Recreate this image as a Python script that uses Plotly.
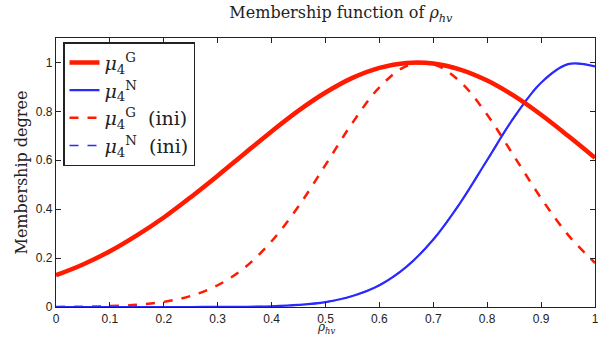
import plotly.graph_objects as go

rho = [0.0, 0.05, 0.1, 0.15, 0.2, 0.25, 0.3, 0.35, 0.4, 0.45, 0.5,
       0.55, 0.6, 0.65, 0.7, 0.75, 0.8, 0.85, 0.9, 0.95, 1.0]

mu_G = [0.130, 0.174, 0.228, 0.293, 0.366, 0.449, 0.537, 0.628, 0.718, 0.803, 0.877,
        0.937, 0.978, 0.998, 0.996, 0.971, 0.926, 0.863, 0.786, 0.700, 0.610]
mu_N = [0.0, 0.0, 0.0, 0.0, 0.0, 0.0, 0.0004, 0.001, 0.003, 0.0085, 0.020,
        0.045, 0.089, 0.164, 0.276, 0.426, 0.601, 0.776, 0.917, 0.993, 0.984]
mu_G_ini = [0.0004, 0.0013, 0.0036, 0.009, 0.021, 0.045, 0.089, 0.161, 0.269, 0.412, 0.581,
            0.753, 0.898, 0.985, 0.993, 0.921, 0.786, 0.616, 0.445, 0.295, 0.180]
mu_N_ini = [0.0, 0.0, 0.0, 0.0, 0.0, 0.0, 0.0004, 0.001, 0.003, 0.0085, 0.020,
            0.045, 0.089, 0.164, 0.276, 0.426, 0.601, 0.776, 0.917, 0.993, 0.984]

x_ticks = [0, 0.1, 0.2, 0.3, 0.4, 0.5, 0.6, 0.7, 0.8, 0.9, 1]
y_ticks = [0, 0.2, 0.4, 0.6, 0.8, 1]

RED = "#ff1a00"
BLUE = "#2a2aff"
SERIF = "DejaVu Serif"

fig = go.Figure()
fig.add_trace(go.Scatter(x=rho, y=mu_N_ini, mode="lines", line_shape="spline",
                         line=dict(color=BLUE, width=1.5, dash="dash"),
                         name="<i>μ</i><sub>4</sub><sup>N</sup>  (ini)", legendrank=4))
fig.add_trace(go.Scatter(x=rho, y=mu_G_ini, mode="lines", line_shape="spline",
                         line=dict(color=RED, width=2.5, dash="dash"),
                         name="<i>μ</i><sub>4</sub><sup>G</sup>  (ini)", legendrank=3))
fig.add_trace(go.Scatter(x=rho, y=mu_N, mode="lines", line_shape="spline",
                         line=dict(color=BLUE, width=2.2),
                         name="<i>μ</i><sub>4</sub><sup>N</sup>", legendrank=2))
fig.add_trace(go.Scatter(x=rho, y=mu_G, mode="lines", line_shape="spline",
                         line=dict(color=RED, width=4.5),
                         name="<i>μ</i><sub>4</sub><sup>G</sup>", legendrank=1))

axis_common = dict(showline=True, linecolor="#222", linewidth=1.2, mirror="allticks",
                   ticks="inside", ticklen=5, tickcolor="#222", showgrid=False, zeroline=False,
                   automargin=False, ticklabeloverflow="allow",
                   tickfont=dict(family="Liberation Sans", size=12, color="#222"))

fig.update_layout(
    width=598, height=337,
    margin=dict(l=56, r=3, t=38, b=30),
    paper_bgcolor="white", plot_bgcolor="white",
    title=dict(text="Membership function of <i>ρ</i><sub><i>hv</i></sub>",
               x=0.57, xanchor="center", y=0.962, yanchor="middle",
               font=dict(family=SERIF, size=16, color="#222"), automargin=False),
    xaxis=dict(range=[0, 1], tickvals=x_ticks, ticktext=[str(v) for v in x_ticks],
               **axis_common),
    yaxis=dict(range=[0, 1.1], tickvals=y_ticks, ticktext=[str(v) for v in y_ticks],
               **axis_common),
    legend=dict(x=0.013, y=0.985, xanchor="left", yanchor="top",
                bgcolor="white", bordercolor="#222", borderwidth=1.5,
                font=dict(family=SERIF, size=19, color="#222"),
                tracegroupgap=0, itemwidth=30),
    showlegend=True,
    annotations=[
        dict(text="<i>ρ</i><sub><i>hv</i></sub>", xref="paper", yref="paper",
             x=0.5, y=0, yshift=-21, xanchor="center", yanchor="middle", showarrow=False,
             font=dict(family=SERIF, size=12, color="#222")),
        dict(text="Membership degree", xref="paper", yref="paper",
             x=0, y=0.5, xshift=-35, xanchor="center", yanchor="middle", textangle=-90,
             showarrow=False, font=dict(family=SERIF, size=16, color="#222")),
    ],
)

fig.write_html("out.html", config={"displayModeBar": False},
               post_script="document.body.style.margin='0';document.body.style.overflow='hidden';")
